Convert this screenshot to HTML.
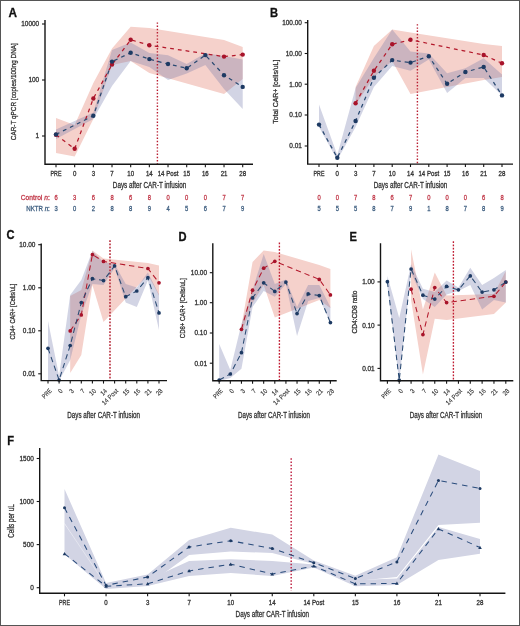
<!DOCTYPE html>
<html><head><meta charset="utf-8"><title>CAR-T figure</title>
<style>
html,body{margin:0;padding:0;background:#fff;}
body{width:520px;height:626px;overflow:hidden;}
svg{display:block;font-family:"Liberation Sans", sans-serif;will-change:transform;}
text{stroke-width:0.3px;}
</style></head><body>
<svg width="520" height="626" viewBox="0 0 520 626">
<rect x="0" y="0" width="520" height="626" fill="#fff"/>
<polygon points="56,118 74.67,125 93.34,83 112.01,48.5 130.68,26.7 149.35,28 224.03,40 242.7,47 242.7,79 224.03,94 149.35,73 130.68,61 112.01,65 93.34,119 74.67,156.5 56,153" fill="#f5d1cb"/>
<polygon points="56,129.5 93.34,112.5 112.01,50 130.68,42.5 149.35,53 168.02,55.2 186.69,64 205.36,53.2 224.03,56 242.7,59.6 242.7,109 224.03,89 205.36,65 186.69,73.4 168.02,80 149.35,67 130.68,61 112.01,86 93.34,119 56,139" fill="rgb(105,112,165)" fill-opacity="0.3"/>
<line x1="157.4" y1="22.4" x2="157.4" y2="164" stroke="#b81c30" stroke-width="1.4" stroke-dasharray="1.4 1.8"/>
<polyline points="56,134.8 74.67,148.8 93.34,98.5 112.01,64.6 130.68,39.8 149.35,45.2 224.03,56.6 242.7,54.6" fill="none" stroke="#b3182b" stroke-width="1.25" stroke-dasharray="3.8 4" stroke-linejoin="round"/>
<polyline points="56,134.4 93.34,115.8 112.01,61.6 130.68,52.7 149.35,59.1 168.02,64 186.69,68.3 205.36,55.1 224.03,75.2 242.7,86.9" fill="none" stroke="#2a4a72" stroke-width="1.25" stroke-dasharray="3.8 4" stroke-linejoin="round"/>
<circle cx="56" cy="134.8" r="2.2" fill="#a8132a"/>
<circle cx="74.67" cy="148.8" r="2.2" fill="#a8132a"/>
<circle cx="93.34" cy="98.5" r="2.2" fill="#a8132a"/>
<circle cx="112.01" cy="64.6" r="2.2" fill="#a8132a"/>
<circle cx="130.68" cy="39.8" r="2.2" fill="#a8132a"/>
<circle cx="149.35" cy="45.2" r="2.2" fill="#a8132a"/>
<circle cx="224.03" cy="56.6" r="2.2" fill="#a8132a"/>
<circle cx="242.7" cy="54.6" r="2.2" fill="#a8132a"/>
<circle cx="56" cy="134.4" r="2.2" fill="#1d3a63"/>
<circle cx="93.34" cy="115.8" r="2.2" fill="#1d3a63"/>
<circle cx="112.01" cy="61.6" r="2.2" fill="#1d3a63"/>
<circle cx="130.68" cy="52.7" r="2.2" fill="#1d3a63"/>
<circle cx="149.35" cy="59.1" r="2.2" fill="#1d3a63"/>
<circle cx="168.02" cy="64" r="2.2" fill="#1d3a63"/>
<circle cx="186.69" cy="68.3" r="2.2" fill="#1d3a63"/>
<circle cx="205.36" cy="55.1" r="2.2" fill="#1d3a63"/>
<circle cx="224.03" cy="75.2" r="2.2" fill="#1d3a63"/>
<circle cx="242.7" cy="86.9" r="2.2" fill="#1d3a63"/>
<path d="M45 20 V164.2 H253" fill="none" stroke="#151515" stroke-width="1.4"/>
<line x1="42" y1="24" x2="45" y2="24" stroke="#151515" stroke-width="1.1"/>
<text transform="translate(39.2,26.48) scale(0.95,1)" font-size="6.8" text-anchor="end" fill="#333333" stroke="#333333" font-weight="normal">10000</text>
<line x1="42" y1="80" x2="45" y2="80" stroke="#151515" stroke-width="1.1"/>
<text transform="translate(39.2,82.48) scale(0.95,1)" font-size="6.8" text-anchor="end" fill="#333333" stroke="#333333" font-weight="normal">100</text>
<line x1="42" y1="136" x2="45" y2="136" stroke="#151515" stroke-width="1.1"/>
<text transform="translate(39.2,138.48) scale(0.95,1)" font-size="6.8" text-anchor="end" fill="#333333" stroke="#333333" font-weight="normal">1</text>
<line x1="56" y1="164.2" x2="56" y2="167.2" stroke="#151515" stroke-width="1.1"/>
<line x1="74.67" y1="164.2" x2="74.67" y2="167.2" stroke="#151515" stroke-width="1.1"/>
<line x1="93.34" y1="164.2" x2="93.34" y2="167.2" stroke="#151515" stroke-width="1.1"/>
<line x1="112.01" y1="164.2" x2="112.01" y2="167.2" stroke="#151515" stroke-width="1.1"/>
<line x1="130.68" y1="164.2" x2="130.68" y2="167.2" stroke="#151515" stroke-width="1.1"/>
<line x1="149.35" y1="164.2" x2="149.35" y2="167.2" stroke="#151515" stroke-width="1.1"/>
<line x1="168.02" y1="164.2" x2="168.02" y2="167.2" stroke="#151515" stroke-width="1.1"/>
<line x1="186.69" y1="164.2" x2="186.69" y2="167.2" stroke="#151515" stroke-width="1.1"/>
<line x1="205.36" y1="164.2" x2="205.36" y2="167.2" stroke="#151515" stroke-width="1.1"/>
<line x1="224.03" y1="164.2" x2="224.03" y2="167.2" stroke="#151515" stroke-width="1.1"/>
<line x1="242.7" y1="164.2" x2="242.7" y2="167.2" stroke="#151515" stroke-width="1.1"/>
<text transform="translate(56,175.7) scale(0.78,1)" font-size="6.8" text-anchor="middle" fill="#333333" stroke="#333333" font-weight="normal">PRE</text>
<text transform="translate(74.67,175.7) scale(0.9,1)" font-size="6.8" text-anchor="middle" fill="#333333" stroke="#333333" font-weight="normal">0</text>
<text transform="translate(93.34,175.7) scale(0.9,1)" font-size="6.8" text-anchor="middle" fill="#333333" stroke="#333333" font-weight="normal">3</text>
<text transform="translate(112.01,175.7) scale(0.9,1)" font-size="6.8" text-anchor="middle" fill="#333333" stroke="#333333" font-weight="normal">7</text>
<text transform="translate(130.68,175.7) scale(0.9,1)" font-size="6.8" text-anchor="middle" fill="#333333" stroke="#333333" font-weight="normal">10</text>
<text transform="translate(149.35,175.7) scale(0.9,1)" font-size="6.8" text-anchor="middle" fill="#333333" stroke="#333333" font-weight="normal">14</text>
<text transform="translate(168.02,175.7) scale(0.9,1)" font-size="6.8" text-anchor="middle" fill="#333333" stroke="#333333" font-weight="normal">14 Post</text>
<text transform="translate(186.69,175.7) scale(0.9,1)" font-size="6.8" text-anchor="middle" fill="#333333" stroke="#333333" font-weight="normal">15</text>
<text transform="translate(205.36,175.7) scale(0.9,1)" font-size="6.8" text-anchor="middle" fill="#333333" stroke="#333333" font-weight="normal">16</text>
<text transform="translate(224.03,175.7) scale(0.9,1)" font-size="6.8" text-anchor="middle" fill="#333333" stroke="#333333" font-weight="normal">21</text>
<text transform="translate(242.7,175.7) scale(0.9,1)" font-size="6.8" text-anchor="middle" fill="#333333" stroke="#333333" font-weight="normal">28</text>
<text x="149.6" y="188.1" font-size="8.2" text-anchor="middle" fill="#333333" stroke="#333333" font-weight="normal" textLength="73.6" lengthAdjust="spacingAndGlyphs">Days after CAR-T infusion</text>
<text transform="translate(15.62,91.7) rotate(-90)" x="0" y="0" font-size="8" text-anchor="middle" fill="#333333" stroke="#333333" textLength="97" lengthAdjust="spacingAndGlyphs">CAR-T qPCR [copies/100ng DNA]</text>
<text transform="translate(8.4,16.5) scale(0.95,1)" font-size="12.4" text-anchor="start" fill="#111" stroke="#111" font-weight="bold">A</text>
<text x="49.8" y="199.8" font-size="7.0" text-anchor="end" fill="#c23b4b" stroke="#c23b4b" font-weight="normal" textLength="29" lengthAdjust="spacingAndGlyphs">Control <tspan font-style="italic">n</tspan>:</text>
<text x="49.8" y="210.8" font-size="7.0" text-anchor="end" fill="#3f5f80" stroke="#3f5f80" font-weight="normal" textLength="23.6" lengthAdjust="spacingAndGlyphs">NKTR <tspan font-style="italic">n</tspan>:</text>
<text transform="translate(56,199.8) scale(0.82,1)" font-size="7.1" text-anchor="middle" fill="#c23b4b" stroke="#c23b4b" font-weight="normal">6</text>
<text transform="translate(56,210.8) scale(0.82,1)" font-size="7.1" text-anchor="middle" fill="#3f5f80" stroke="#3f5f80" font-weight="normal">3</text>
<text transform="translate(74.67,199.8) scale(0.82,1)" font-size="7.1" text-anchor="middle" fill="#c23b4b" stroke="#c23b4b" font-weight="normal">3</text>
<text transform="translate(74.67,210.8) scale(0.82,1)" font-size="7.1" text-anchor="middle" fill="#3f5f80" stroke="#3f5f80" font-weight="normal">0</text>
<text transform="translate(93.34,199.8) scale(0.82,1)" font-size="7.1" text-anchor="middle" fill="#c23b4b" stroke="#c23b4b" font-weight="normal">6</text>
<text transform="translate(93.34,210.8) scale(0.82,1)" font-size="7.1" text-anchor="middle" fill="#3f5f80" stroke="#3f5f80" font-weight="normal">2</text>
<text transform="translate(112.01,199.8) scale(0.82,1)" font-size="7.1" text-anchor="middle" fill="#c23b4b" stroke="#c23b4b" font-weight="normal">8</text>
<text transform="translate(112.01,210.8) scale(0.82,1)" font-size="7.1" text-anchor="middle" fill="#3f5f80" stroke="#3f5f80" font-weight="normal">8</text>
<text transform="translate(130.68,199.8) scale(0.82,1)" font-size="7.1" text-anchor="middle" fill="#c23b4b" stroke="#c23b4b" font-weight="normal">6</text>
<text transform="translate(130.68,210.8) scale(0.82,1)" font-size="7.1" text-anchor="middle" fill="#3f5f80" stroke="#3f5f80" font-weight="normal">8</text>
<text transform="translate(149.35,199.8) scale(0.82,1)" font-size="7.1" text-anchor="middle" fill="#c23b4b" stroke="#c23b4b" font-weight="normal">8</text>
<text transform="translate(149.35,210.8) scale(0.82,1)" font-size="7.1" text-anchor="middle" fill="#3f5f80" stroke="#3f5f80" font-weight="normal">9</text>
<text transform="translate(168.02,199.8) scale(0.82,1)" font-size="7.1" text-anchor="middle" fill="#c23b4b" stroke="#c23b4b" font-weight="normal">0</text>
<text transform="translate(168.02,210.8) scale(0.82,1)" font-size="7.1" text-anchor="middle" fill="#3f5f80" stroke="#3f5f80" font-weight="normal">4</text>
<text transform="translate(186.69,199.8) scale(0.82,1)" font-size="7.1" text-anchor="middle" fill="#c23b4b" stroke="#c23b4b" font-weight="normal">0</text>
<text transform="translate(186.69,210.8) scale(0.82,1)" font-size="7.1" text-anchor="middle" fill="#3f5f80" stroke="#3f5f80" font-weight="normal">5</text>
<text transform="translate(205.36,199.8) scale(0.82,1)" font-size="7.1" text-anchor="middle" fill="#c23b4b" stroke="#c23b4b" font-weight="normal">0</text>
<text transform="translate(205.36,210.8) scale(0.82,1)" font-size="7.1" text-anchor="middle" fill="#3f5f80" stroke="#3f5f80" font-weight="normal">6</text>
<text transform="translate(224.03,199.8) scale(0.82,1)" font-size="7.1" text-anchor="middle" fill="#c23b4b" stroke="#c23b4b" font-weight="normal">7</text>
<text transform="translate(224.03,210.8) scale(0.82,1)" font-size="7.1" text-anchor="middle" fill="#3f5f80" stroke="#3f5f80" font-weight="normal">7</text>
<text transform="translate(242.7,199.8) scale(0.82,1)" font-size="7.1" text-anchor="middle" fill="#c23b4b" stroke="#c23b4b" font-weight="normal">7</text>
<text transform="translate(242.7,210.8) scale(0.82,1)" font-size="7.1" text-anchor="middle" fill="#3f5f80" stroke="#3f5f80" font-weight="normal">9</text>
<polygon points="355.6,87 373.9,46 392.2,29.6 410.5,32.4 483.7,44 502,46 502,77 483.7,80 410.5,94 392.2,61 373.9,77 355.6,105" fill="#f5d1cb"/>
<polygon points="319,104.4 337.3,155 355.6,88 373.9,58 392.2,29.6 410.5,51.6 428.8,53.4 447.1,73.2 465.4,68.2 483.7,58.3 502,74.4 502,95.4 483.7,78 465.4,78 447.1,93 428.8,59.6 410.5,70.7 392.2,66 373.9,87 355.6,127 337.3,160 319,127" fill="rgb(105,112,165)" fill-opacity="0.3"/>
<line x1="417.4" y1="24.2" x2="417.4" y2="164" stroke="#b81c30" stroke-width="1.4" stroke-dasharray="1.4 1.8"/>
<polyline points="355.6,103.2 373.9,70.8 392.2,44.3 410.5,39.8 483.7,55 502,63.3" fill="none" stroke="#b3182b" stroke-width="1.25" stroke-dasharray="3.8 4" stroke-linejoin="round"/>
<polyline points="319,124.6 337.3,157.7 355.6,121 373.9,77.7 392.2,60.1 410.5,62.6 428.8,56.3 447.1,83.8 465.4,72 483.7,67 502,95.4" fill="none" stroke="#2a4a72" stroke-width="1.25" stroke-dasharray="3.8 4" stroke-linejoin="round"/>
<circle cx="355.6" cy="103.2" r="2.2" fill="#a8132a"/>
<circle cx="373.9" cy="70.8" r="2.2" fill="#a8132a"/>
<circle cx="392.2" cy="44.3" r="2.2" fill="#a8132a"/>
<circle cx="410.5" cy="39.8" r="2.2" fill="#a8132a"/>
<circle cx="483.7" cy="55" r="2.2" fill="#a8132a"/>
<circle cx="502" cy="63.3" r="2.2" fill="#a8132a"/>
<circle cx="319" cy="124.6" r="2.2" fill="#1d3a63"/>
<circle cx="337.3" cy="157.7" r="2.2" fill="#1d3a63"/>
<circle cx="355.6" cy="121" r="2.2" fill="#1d3a63"/>
<circle cx="373.9" cy="77.7" r="2.2" fill="#1d3a63"/>
<circle cx="392.2" cy="60.1" r="2.2" fill="#1d3a63"/>
<circle cx="410.5" cy="62.6" r="2.2" fill="#1d3a63"/>
<circle cx="428.8" cy="56.3" r="2.2" fill="#1d3a63"/>
<circle cx="447.1" cy="83.8" r="2.2" fill="#1d3a63"/>
<circle cx="465.4" cy="72" r="2.2" fill="#1d3a63"/>
<circle cx="483.7" cy="67" r="2.2" fill="#1d3a63"/>
<circle cx="502" cy="95.4" r="2.2" fill="#1d3a63"/>
<path d="M307.7 20 V164.1 H513" fill="none" stroke="#151515" stroke-width="1.4"/>
<line x1="304.7" y1="22.7" x2="307.7" y2="22.7" stroke="#151515" stroke-width="1.1"/>
<text transform="translate(301.9,25.18) scale(0.95,1)" font-size="6.8" text-anchor="end" fill="#333333" stroke="#333333" font-weight="normal">100.00</text>
<line x1="304.7" y1="53.5" x2="307.7" y2="53.5" stroke="#151515" stroke-width="1.1"/>
<text transform="translate(301.9,55.98) scale(0.95,1)" font-size="6.8" text-anchor="end" fill="#333333" stroke="#333333" font-weight="normal">10.00</text>
<line x1="304.7" y1="84.2" x2="307.7" y2="84.2" stroke="#151515" stroke-width="1.1"/>
<text transform="translate(301.9,86.68) scale(0.95,1)" font-size="6.8" text-anchor="end" fill="#333333" stroke="#333333" font-weight="normal">1.00</text>
<line x1="304.7" y1="115" x2="307.7" y2="115" stroke="#151515" stroke-width="1.1"/>
<text transform="translate(301.9,117.48) scale(0.95,1)" font-size="6.8" text-anchor="end" fill="#333333" stroke="#333333" font-weight="normal">0.10</text>
<line x1="304.7" y1="146" x2="307.7" y2="146" stroke="#151515" stroke-width="1.1"/>
<text transform="translate(301.9,148.48) scale(0.95,1)" font-size="6.8" text-anchor="end" fill="#333333" stroke="#333333" font-weight="normal">0.01</text>
<line x1="319" y1="164" x2="319" y2="167" stroke="#151515" stroke-width="1.1"/>
<line x1="337.3" y1="164" x2="337.3" y2="167" stroke="#151515" stroke-width="1.1"/>
<line x1="355.6" y1="164" x2="355.6" y2="167" stroke="#151515" stroke-width="1.1"/>
<line x1="373.9" y1="164" x2="373.9" y2="167" stroke="#151515" stroke-width="1.1"/>
<line x1="392.2" y1="164" x2="392.2" y2="167" stroke="#151515" stroke-width="1.1"/>
<line x1="410.5" y1="164" x2="410.5" y2="167" stroke="#151515" stroke-width="1.1"/>
<line x1="428.8" y1="164" x2="428.8" y2="167" stroke="#151515" stroke-width="1.1"/>
<line x1="447.1" y1="164" x2="447.1" y2="167" stroke="#151515" stroke-width="1.1"/>
<line x1="465.4" y1="164" x2="465.4" y2="167" stroke="#151515" stroke-width="1.1"/>
<line x1="483.7" y1="164" x2="483.7" y2="167" stroke="#151515" stroke-width="1.1"/>
<line x1="502" y1="164" x2="502" y2="167" stroke="#151515" stroke-width="1.1"/>
<text transform="translate(319,175.9) scale(0.78,1)" font-size="6.8" text-anchor="middle" fill="#333333" stroke="#333333" font-weight="normal">PRE</text>
<text transform="translate(337.3,175.9) scale(0.9,1)" font-size="6.8" text-anchor="middle" fill="#333333" stroke="#333333" font-weight="normal">0</text>
<text transform="translate(355.6,175.9) scale(0.9,1)" font-size="6.8" text-anchor="middle" fill="#333333" stroke="#333333" font-weight="normal">3</text>
<text transform="translate(373.9,175.9) scale(0.9,1)" font-size="6.8" text-anchor="middle" fill="#333333" stroke="#333333" font-weight="normal">7</text>
<text transform="translate(392.2,175.9) scale(0.9,1)" font-size="6.8" text-anchor="middle" fill="#333333" stroke="#333333" font-weight="normal">10</text>
<text transform="translate(410.5,175.9) scale(0.9,1)" font-size="6.8" text-anchor="middle" fill="#333333" stroke="#333333" font-weight="normal">14</text>
<text transform="translate(428.8,175.9) scale(0.9,1)" font-size="6.8" text-anchor="middle" fill="#333333" stroke="#333333" font-weight="normal">14 Post</text>
<text transform="translate(447.1,175.9) scale(0.9,1)" font-size="6.8" text-anchor="middle" fill="#333333" stroke="#333333" font-weight="normal">15</text>
<text transform="translate(465.4,175.9) scale(0.9,1)" font-size="6.8" text-anchor="middle" fill="#333333" stroke="#333333" font-weight="normal">16</text>
<text transform="translate(483.7,175.9) scale(0.9,1)" font-size="6.8" text-anchor="middle" fill="#333333" stroke="#333333" font-weight="normal">21</text>
<text transform="translate(502,175.9) scale(0.9,1)" font-size="6.8" text-anchor="middle" fill="#333333" stroke="#333333" font-weight="normal">28</text>
<text x="410.5" y="188.1" font-size="8.2" text-anchor="middle" fill="#333333" stroke="#333333" font-weight="normal" textLength="73.6" lengthAdjust="spacingAndGlyphs">Days after CAR-T infusion</text>
<text transform="translate(277.52,91.7) rotate(-90)" x="0" y="0" font-size="8" text-anchor="middle" fill="#333333" stroke="#333333" textLength="64" lengthAdjust="spacingAndGlyphs">Total CAR+ [cells/uL]</text>
<text transform="translate(270,16.5) scale(0.9,1)" font-size="12.4" text-anchor="start" fill="#111" stroke="#111" font-weight="bold">B</text>
<text transform="translate(319,199.8) scale(0.82,1)" font-size="7.1" text-anchor="middle" fill="#c23b4b" stroke="#c23b4b" font-weight="normal">0</text>
<text transform="translate(319,210.8) scale(0.82,1)" font-size="7.1" text-anchor="middle" fill="#3f5f80" stroke="#3f5f80" font-weight="normal">5</text>
<text transform="translate(337.3,199.8) scale(0.82,1)" font-size="7.1" text-anchor="middle" fill="#c23b4b" stroke="#c23b4b" font-weight="normal">0</text>
<text transform="translate(337.3,210.8) scale(0.82,1)" font-size="7.1" text-anchor="middle" fill="#3f5f80" stroke="#3f5f80" font-weight="normal">5</text>
<text transform="translate(355.6,199.8) scale(0.82,1)" font-size="7.1" text-anchor="middle" fill="#c23b4b" stroke="#c23b4b" font-weight="normal">7</text>
<text transform="translate(355.6,210.8) scale(0.82,1)" font-size="7.1" text-anchor="middle" fill="#3f5f80" stroke="#3f5f80" font-weight="normal">5</text>
<text transform="translate(373.9,199.8) scale(0.82,1)" font-size="7.1" text-anchor="middle" fill="#c23b4b" stroke="#c23b4b" font-weight="normal">8</text>
<text transform="translate(373.9,210.8) scale(0.82,1)" font-size="7.1" text-anchor="middle" fill="#3f5f80" stroke="#3f5f80" font-weight="normal">8</text>
<text transform="translate(392.2,199.8) scale(0.82,1)" font-size="7.1" text-anchor="middle" fill="#c23b4b" stroke="#c23b4b" font-weight="normal">6</text>
<text transform="translate(392.2,210.8) scale(0.82,1)" font-size="7.1" text-anchor="middle" fill="#3f5f80" stroke="#3f5f80" font-weight="normal">7</text>
<text transform="translate(410.5,199.8) scale(0.82,1)" font-size="7.1" text-anchor="middle" fill="#c23b4b" stroke="#c23b4b" font-weight="normal">7</text>
<text transform="translate(410.5,210.8) scale(0.82,1)" font-size="7.1" text-anchor="middle" fill="#3f5f80" stroke="#3f5f80" font-weight="normal">9</text>
<text transform="translate(428.8,199.8) scale(0.82,1)" font-size="7.1" text-anchor="middle" fill="#c23b4b" stroke="#c23b4b" font-weight="normal">0</text>
<text transform="translate(428.8,210.8) scale(0.82,1)" font-size="7.1" text-anchor="middle" fill="#3f5f80" stroke="#3f5f80" font-weight="normal">1</text>
<text transform="translate(447.1,199.8) scale(0.82,1)" font-size="7.1" text-anchor="middle" fill="#c23b4b" stroke="#c23b4b" font-weight="normal">0</text>
<text transform="translate(447.1,210.8) scale(0.82,1)" font-size="7.1" text-anchor="middle" fill="#3f5f80" stroke="#3f5f80" font-weight="normal">8</text>
<text transform="translate(465.4,199.8) scale(0.82,1)" font-size="7.1" text-anchor="middle" fill="#c23b4b" stroke="#c23b4b" font-weight="normal">0</text>
<text transform="translate(465.4,210.8) scale(0.82,1)" font-size="7.1" text-anchor="middle" fill="#3f5f80" stroke="#3f5f80" font-weight="normal">7</text>
<text transform="translate(483.7,199.8) scale(0.82,1)" font-size="7.1" text-anchor="middle" fill="#c23b4b" stroke="#c23b4b" font-weight="normal">6</text>
<text transform="translate(483.7,210.8) scale(0.82,1)" font-size="7.1" text-anchor="middle" fill="#3f5f80" stroke="#3f5f80" font-weight="normal">8</text>
<text transform="translate(502,199.8) scale(0.82,1)" font-size="7.1" text-anchor="middle" fill="#c23b4b" stroke="#c23b4b" font-weight="normal">8</text>
<text transform="translate(502,210.8) scale(0.82,1)" font-size="7.1" text-anchor="middle" fill="#3f5f80" stroke="#3f5f80" font-weight="normal">9</text>
<polygon points="70.2,296 81.3,290 92.4,250.6 103.5,258.4 147.9,263 159,265.5 159,295.5 147.9,275 103.5,322 92.4,285 81.3,355 70.2,373" fill="#f5d1cb"/>
<polygon points="48,321 59.1,376 70.2,295 81.3,280 92.4,251 103.5,262 114.6,264 125.7,284 136.8,287.5 147.9,272.4 159,294.4 159,330 147.9,280.5 136.8,307 125.7,302.5 114.6,268 103.5,285 92.4,284 81.3,315 70.2,360 59.1,381 48,381" fill="rgb(105,112,165)" fill-opacity="0.3"/>
<line x1="110" y1="240.3" x2="110" y2="380.5" stroke="#b8303f" stroke-width="1.6" stroke-dasharray="1.6 1.65"/>
<polyline points="70.2,330.9 81.3,314.9 92.4,254.6 103.5,261.4 147.9,268.5 159,282.8" fill="none" stroke="#b3182b" stroke-width="1.05" stroke-dasharray="5.4 3.8" stroke-linejoin="round"/>
<polyline points="48,348.3 59.1,380 70.2,345.5 81.3,302.6 92.4,278.7 103.5,280.6 114.6,265.9 125.7,296.7 136.8,291 147.9,277.7 159,312.9" fill="none" stroke="#2a4a72" stroke-width="1.05" stroke-dasharray="5.4 3.8" stroke-linejoin="round"/>
<circle cx="70.2" cy="330.9" r="1.85" fill="#a8132a"/>
<circle cx="81.3" cy="314.9" r="1.85" fill="#a8132a"/>
<circle cx="92.4" cy="254.6" r="1.85" fill="#a8132a"/>
<circle cx="103.5" cy="261.4" r="1.85" fill="#a8132a"/>
<circle cx="147.9" cy="268.5" r="1.85" fill="#a8132a"/>
<circle cx="159" cy="282.8" r="1.85" fill="#a8132a"/>
<circle cx="48" cy="348.3" r="1.85" fill="#1d3a63"/>
<circle cx="59.1" cy="380" r="1.85" fill="#1d3a63"/>
<circle cx="70.2" cy="345.5" r="1.85" fill="#1d3a63"/>
<circle cx="81.3" cy="302.6" r="1.85" fill="#1d3a63"/>
<circle cx="92.4" cy="278.7" r="1.85" fill="#1d3a63"/>
<circle cx="103.5" cy="280.6" r="1.85" fill="#1d3a63"/>
<circle cx="114.6" cy="265.9" r="1.85" fill="#1d3a63"/>
<circle cx="125.7" cy="296.7" r="1.85" fill="#1d3a63"/>
<circle cx="136.8" cy="291" r="1.85" fill="#1d3a63"/>
<circle cx="147.9" cy="277.7" r="1.85" fill="#1d3a63"/>
<circle cx="159" cy="312.9" r="1.85" fill="#1d3a63"/>
<path d="M41.2 243.5 V380.6 H167" fill="none" stroke="#151515" stroke-width="1.4"/>
<line x1="38.2" y1="244.7" x2="41.2" y2="244.7" stroke="#151515" stroke-width="1.1"/>
<text transform="translate(35.4,247.18) scale(0.95,1)" font-size="6.8" text-anchor="end" fill="#333333" stroke="#333333" font-weight="normal">10.00</text>
<line x1="38.2" y1="287.8" x2="41.2" y2="287.8" stroke="#151515" stroke-width="1.1"/>
<text transform="translate(35.4,290.28) scale(0.95,1)" font-size="6.8" text-anchor="end" fill="#333333" stroke="#333333" font-weight="normal">1.00</text>
<line x1="38.2" y1="330.8" x2="41.2" y2="330.8" stroke="#151515" stroke-width="1.1"/>
<text transform="translate(35.4,333.28) scale(0.95,1)" font-size="6.8" text-anchor="end" fill="#333333" stroke="#333333" font-weight="normal">0.10</text>
<line x1="38.2" y1="373.8" x2="41.2" y2="373.8" stroke="#151515" stroke-width="1.1"/>
<text transform="translate(35.4,376.28) scale(0.95,1)" font-size="6.8" text-anchor="end" fill="#333333" stroke="#333333" font-weight="normal">0.01</text>
<line x1="48" y1="380.6" x2="48" y2="383.6" stroke="#151515" stroke-width="1.1"/>
<line x1="59.1" y1="380.6" x2="59.1" y2="383.6" stroke="#151515" stroke-width="1.1"/>
<line x1="70.2" y1="380.6" x2="70.2" y2="383.6" stroke="#151515" stroke-width="1.1"/>
<line x1="81.3" y1="380.6" x2="81.3" y2="383.6" stroke="#151515" stroke-width="1.1"/>
<line x1="92.4" y1="380.6" x2="92.4" y2="383.6" stroke="#151515" stroke-width="1.1"/>
<line x1="103.5" y1="380.6" x2="103.5" y2="383.6" stroke="#151515" stroke-width="1.1"/>
<line x1="114.6" y1="380.6" x2="114.6" y2="383.6" stroke="#151515" stroke-width="1.1"/>
<line x1="125.7" y1="380.6" x2="125.7" y2="383.6" stroke="#151515" stroke-width="1.1"/>
<line x1="136.8" y1="380.6" x2="136.8" y2="383.6" stroke="#151515" stroke-width="1.1"/>
<line x1="147.9" y1="380.6" x2="147.9" y2="383.6" stroke="#151515" stroke-width="1.1"/>
<line x1="159" y1="380.6" x2="159" y2="383.6" stroke="#151515" stroke-width="1.1"/>
<text transform="translate(52.1,391.4) rotate(-45) scale(0.78,1)" font-size="6.6" text-anchor="end" fill="#333333" stroke="#333333" style="stroke-width:0.12px">PRE</text>
<text transform="translate(63.2,391.4) rotate(-45) scale(0.9,1)" font-size="6.6" text-anchor="end" fill="#333333" stroke="#333333" style="stroke-width:0.12px">0</text>
<text transform="translate(74.3,391.4) rotate(-45) scale(0.9,1)" font-size="6.6" text-anchor="end" fill="#333333" stroke="#333333" style="stroke-width:0.12px">3</text>
<text transform="translate(85.4,391.4) rotate(-45) scale(0.9,1)" font-size="6.6" text-anchor="end" fill="#333333" stroke="#333333" style="stroke-width:0.12px">7</text>
<text transform="translate(96.5,391.4) rotate(-45) scale(0.9,1)" font-size="6.6" text-anchor="end" fill="#333333" stroke="#333333" style="stroke-width:0.12px">10</text>
<text transform="translate(107.6,391.4) rotate(-45) scale(0.9,1)" font-size="6.6" text-anchor="end" fill="#333333" stroke="#333333" style="stroke-width:0.12px">14</text>
<text transform="translate(118.7,391.4) rotate(-45) scale(0.9,1)" font-size="6.6" text-anchor="end" fill="#333333" stroke="#333333" style="stroke-width:0.12px">14 Post</text>
<text transform="translate(129.8,391.4) rotate(-45) scale(0.9,1)" font-size="6.6" text-anchor="end" fill="#333333" stroke="#333333" style="stroke-width:0.12px">15</text>
<text transform="translate(140.9,391.4) rotate(-45) scale(0.9,1)" font-size="6.6" text-anchor="end" fill="#333333" stroke="#333333" style="stroke-width:0.12px">16</text>
<text transform="translate(152,391.4) rotate(-45) scale(0.9,1)" font-size="6.6" text-anchor="end" fill="#333333" stroke="#333333" style="stroke-width:0.12px">21</text>
<text transform="translate(163.1,391.4) rotate(-45) scale(0.9,1)" font-size="6.6" text-anchor="end" fill="#333333" stroke="#333333" style="stroke-width:0.12px">28</text>
<text x="103.7" y="418.3" font-size="8.2" text-anchor="middle" fill="#333333" stroke="#333333" font-weight="normal" textLength="72.7" lengthAdjust="spacingAndGlyphs">Days after CAR-T infusion</text>
<text transform="translate(14.72,311.6) rotate(-90)" x="0" y="0" font-size="8" text-anchor="middle" fill="#333333" stroke="#333333" textLength="56" lengthAdjust="spacingAndGlyphs">CD4+ CAR+ [Cells/uL]</text>
<text transform="translate(6.5,239.3) scale(0.9,1)" font-size="12.4" text-anchor="start" fill="#111" stroke="#111" font-weight="bold">C</text>
<polygon points="241.44,326 252.56,262 263.68,250.4 274.8,252 319.28,265 330.4,269 330.4,308 319.28,300 274.8,317.5 263.68,285 252.56,303 241.44,334" fill="#f5d1cb"/>
<polygon points="219.2,344 230.32,370 241.44,324 252.56,290 263.68,254 274.8,284 285.92,279.4 297.04,307 308.16,285 319.28,285 330.4,307 330.4,323 319.28,298 308.16,301 297.04,336 285.92,284 274.8,296.7 263.68,291 252.56,307 241.44,368.7 230.32,378 219.2,381" fill="rgb(105,112,165)" fill-opacity="0.3"/>
<line x1="279.4" y1="242.6" x2="279.4" y2="380.5" stroke="#c01c32" stroke-width="1.35" stroke-dasharray="1.6 1.65"/>
<polyline points="241.44,329.3 252.56,290.2 263.68,268.2 274.8,261.3 319.28,279.4 330.4,294.9" fill="none" stroke="#b3182b" stroke-width="1.05" stroke-dasharray="5.4 3.8" stroke-linejoin="round"/>
<polyline points="219.2,380 230.32,374 241.44,352.7 252.56,297.9 263.68,282.8 274.8,291.4 285.92,282.1 297.04,313.6 308.16,293.9 319.28,295.6 330.4,322.6" fill="none" stroke="#2a4a72" stroke-width="1.05" stroke-dasharray="5.4 3.8" stroke-linejoin="round"/>
<circle cx="241.44" cy="329.3" r="1.85" fill="#a8132a"/>
<circle cx="252.56" cy="290.2" r="1.85" fill="#a8132a"/>
<circle cx="263.68" cy="268.2" r="1.85" fill="#a8132a"/>
<circle cx="274.8" cy="261.3" r="1.85" fill="#a8132a"/>
<circle cx="319.28" cy="279.4" r="1.85" fill="#a8132a"/>
<circle cx="330.4" cy="294.9" r="1.85" fill="#a8132a"/>
<circle cx="219.2" cy="380" r="1.85" fill="#1d3a63"/>
<circle cx="230.32" cy="374" r="1.85" fill="#1d3a63"/>
<circle cx="241.44" cy="352.7" r="1.85" fill="#1d3a63"/>
<circle cx="252.56" cy="297.9" r="1.85" fill="#1d3a63"/>
<circle cx="263.68" cy="282.8" r="1.85" fill="#1d3a63"/>
<circle cx="274.8" cy="291.4" r="1.85" fill="#1d3a63"/>
<circle cx="285.92" cy="282.1" r="1.85" fill="#1d3a63"/>
<circle cx="297.04" cy="313.6" r="1.85" fill="#1d3a63"/>
<circle cx="308.16" cy="293.9" r="1.85" fill="#1d3a63"/>
<circle cx="319.28" cy="295.6" r="1.85" fill="#1d3a63"/>
<circle cx="330.4" cy="322.6" r="1.85" fill="#1d3a63"/>
<path d="M212.8 243.2 V380.7 H336.7" fill="none" stroke="#151515" stroke-width="1.4"/>
<line x1="209.8" y1="272.7" x2="212.8" y2="272.7" stroke="#151515" stroke-width="1.1"/>
<text transform="translate(207,275.18) scale(0.95,1)" font-size="6.8" text-anchor="end" fill="#333333" stroke="#333333" font-weight="normal">10.00</text>
<line x1="209.8" y1="302.7" x2="212.8" y2="302.7" stroke="#151515" stroke-width="1.1"/>
<text transform="translate(207,305.18) scale(0.95,1)" font-size="6.8" text-anchor="end" fill="#333333" stroke="#333333" font-weight="normal">1.00</text>
<line x1="209.8" y1="333" x2="212.8" y2="333" stroke="#151515" stroke-width="1.1"/>
<text transform="translate(207,335.48) scale(0.95,1)" font-size="6.8" text-anchor="end" fill="#333333" stroke="#333333" font-weight="normal">0.10</text>
<line x1="209.8" y1="363.2" x2="212.8" y2="363.2" stroke="#151515" stroke-width="1.1"/>
<text transform="translate(207,365.68) scale(0.95,1)" font-size="6.8" text-anchor="end" fill="#333333" stroke="#333333" font-weight="normal">0.01</text>
<line x1="219.2" y1="380.7" x2="219.2" y2="383.7" stroke="#151515" stroke-width="1.1"/>
<line x1="230.32" y1="380.7" x2="230.32" y2="383.7" stroke="#151515" stroke-width="1.1"/>
<line x1="241.44" y1="380.7" x2="241.44" y2="383.7" stroke="#151515" stroke-width="1.1"/>
<line x1="252.56" y1="380.7" x2="252.56" y2="383.7" stroke="#151515" stroke-width="1.1"/>
<line x1="263.68" y1="380.7" x2="263.68" y2="383.7" stroke="#151515" stroke-width="1.1"/>
<line x1="274.8" y1="380.7" x2="274.8" y2="383.7" stroke="#151515" stroke-width="1.1"/>
<line x1="285.92" y1="380.7" x2="285.92" y2="383.7" stroke="#151515" stroke-width="1.1"/>
<line x1="297.04" y1="380.7" x2="297.04" y2="383.7" stroke="#151515" stroke-width="1.1"/>
<line x1="308.16" y1="380.7" x2="308.16" y2="383.7" stroke="#151515" stroke-width="1.1"/>
<line x1="319.28" y1="380.7" x2="319.28" y2="383.7" stroke="#151515" stroke-width="1.1"/>
<line x1="330.4" y1="380.7" x2="330.4" y2="383.7" stroke="#151515" stroke-width="1.1"/>
<text transform="translate(223.3,391.4) rotate(-45) scale(0.78,1)" font-size="6.6" text-anchor="end" fill="#333333" stroke="#333333" style="stroke-width:0.12px">PRE</text>
<text transform="translate(234.42,391.4) rotate(-45) scale(0.9,1)" font-size="6.6" text-anchor="end" fill="#333333" stroke="#333333" style="stroke-width:0.12px">0</text>
<text transform="translate(245.54,391.4) rotate(-45) scale(0.9,1)" font-size="6.6" text-anchor="end" fill="#333333" stroke="#333333" style="stroke-width:0.12px">3</text>
<text transform="translate(256.66,391.4) rotate(-45) scale(0.9,1)" font-size="6.6" text-anchor="end" fill="#333333" stroke="#333333" style="stroke-width:0.12px">7</text>
<text transform="translate(267.78,391.4) rotate(-45) scale(0.9,1)" font-size="6.6" text-anchor="end" fill="#333333" stroke="#333333" style="stroke-width:0.12px">10</text>
<text transform="translate(278.9,391.4) rotate(-45) scale(0.9,1)" font-size="6.6" text-anchor="end" fill="#333333" stroke="#333333" style="stroke-width:0.12px">14</text>
<text transform="translate(290.02,391.4) rotate(-45) scale(0.9,1)" font-size="6.6" text-anchor="end" fill="#333333" stroke="#333333" style="stroke-width:0.12px">14 Post</text>
<text transform="translate(301.14,391.4) rotate(-45) scale(0.9,1)" font-size="6.6" text-anchor="end" fill="#333333" stroke="#333333" style="stroke-width:0.12px">15</text>
<text transform="translate(312.26,391.4) rotate(-45) scale(0.9,1)" font-size="6.6" text-anchor="end" fill="#333333" stroke="#333333" style="stroke-width:0.12px">16</text>
<text transform="translate(323.38,391.4) rotate(-45) scale(0.9,1)" font-size="6.6" text-anchor="end" fill="#333333" stroke="#333333" style="stroke-width:0.12px">21</text>
<text transform="translate(334.5,391.4) rotate(-45) scale(0.9,1)" font-size="6.6" text-anchor="end" fill="#333333" stroke="#333333" style="stroke-width:0.12px">28</text>
<text x="274" y="418.3" font-size="8.2" text-anchor="middle" fill="#333333" stroke="#333333" font-weight="normal" textLength="72" lengthAdjust="spacingAndGlyphs">Days after CAR-T infusion</text>
<text transform="translate(184.92,308.2) rotate(-90)" x="0" y="0" font-size="8" text-anchor="middle" fill="#333333" stroke="#333333" textLength="60" lengthAdjust="spacingAndGlyphs">CD8+ CAR+ [Cells/uL]</text>
<text transform="translate(178.5,240.8) scale(0.9,1)" font-size="12.4" text-anchor="start" fill="#111" stroke="#111" font-weight="bold">D</text>
<polygon points="411.08,249.3 422.92,309.5 434.76,272.5 446.6,295.6 493.96,294 505.8,271 505.8,302.5 493.96,314 446.6,320 434.76,318.8 422.92,374.4 411.08,300" fill="#f5d1cb"/>
<polygon points="387.4,276 399.24,318 411.08,264.3 422.92,288.7 434.76,292 446.6,280.5 458.44,287.5 470.28,267.8 482.12,285 493.96,278 505.8,270 505.8,302.5 493.96,300 482.12,309.4 470.28,285 458.44,291 446.6,294.4 434.76,307 422.92,299 411.08,272.5 399.24,381 387.4,286.4" fill="rgb(105,112,165)" fill-opacity="0.3"/>
<line x1="453.4" y1="241.3" x2="453.4" y2="380.5" stroke="#c01c32" stroke-width="1.35" stroke-dasharray="1.6 1.65"/>
<polyline points="411.08,289.2 422.92,334.6 434.76,287.5 446.6,302.6 493.96,296.3 505.8,282.1" fill="none" stroke="#b3182b" stroke-width="1.05" stroke-dasharray="5.4 3.8" stroke-linejoin="round"/>
<polyline points="387.4,281.7 399.24,380.2 411.08,269 422.92,295.2 434.76,299.1 446.6,286.4 458.44,289.8 470.28,275.9 482.12,292.1 493.96,289.8 505.8,282.1" fill="none" stroke="#2a4a72" stroke-width="1.05" stroke-dasharray="5.4 3.8" stroke-linejoin="round"/>
<circle cx="411.08" cy="289.2" r="1.85" fill="#a8132a"/>
<circle cx="422.92" cy="334.6" r="1.85" fill="#a8132a"/>
<circle cx="434.76" cy="287.5" r="1.85" fill="#a8132a"/>
<circle cx="446.6" cy="302.6" r="1.85" fill="#a8132a"/>
<circle cx="493.96" cy="296.3" r="1.85" fill="#a8132a"/>
<circle cx="505.8" cy="282.1" r="1.85" fill="#a8132a"/>
<circle cx="387.4" cy="281.7" r="1.85" fill="#1d3a63"/>
<circle cx="399.24" cy="380.2" r="1.85" fill="#1d3a63"/>
<circle cx="411.08" cy="269" r="1.85" fill="#1d3a63"/>
<circle cx="422.92" cy="295.2" r="1.85" fill="#1d3a63"/>
<circle cx="434.76" cy="299.1" r="1.85" fill="#1d3a63"/>
<circle cx="446.6" cy="286.4" r="1.85" fill="#1d3a63"/>
<circle cx="458.44" cy="289.8" r="1.85" fill="#1d3a63"/>
<circle cx="470.28" cy="275.9" r="1.85" fill="#1d3a63"/>
<circle cx="482.12" cy="292.1" r="1.85" fill="#1d3a63"/>
<circle cx="493.96" cy="289.8" r="1.85" fill="#1d3a63"/>
<circle cx="505.8" cy="282.1" r="1.85" fill="#1d3a63"/>
<path d="M380.5 243.2 V380.7 H513.3" fill="none" stroke="#151515" stroke-width="1.4"/>
<line x1="377.5" y1="281.9" x2="380.5" y2="281.9" stroke="#151515" stroke-width="1.1"/>
<text transform="translate(374.7,284.38) scale(0.95,1)" font-size="6.8" text-anchor="end" fill="#333333" stroke="#333333" font-weight="normal">1.00</text>
<line x1="377.5" y1="325.1" x2="380.5" y2="325.1" stroke="#151515" stroke-width="1.1"/>
<text transform="translate(374.7,327.58) scale(0.95,1)" font-size="6.8" text-anchor="end" fill="#333333" stroke="#333333" font-weight="normal">0.10</text>
<line x1="377.5" y1="368.4" x2="380.5" y2="368.4" stroke="#151515" stroke-width="1.1"/>
<text transform="translate(374.7,370.88) scale(0.95,1)" font-size="6.8" text-anchor="end" fill="#333333" stroke="#333333" font-weight="normal">0.01</text>
<line x1="387.4" y1="380.7" x2="387.4" y2="383.7" stroke="#151515" stroke-width="1.1"/>
<line x1="399.24" y1="380.7" x2="399.24" y2="383.7" stroke="#151515" stroke-width="1.1"/>
<line x1="411.08" y1="380.7" x2="411.08" y2="383.7" stroke="#151515" stroke-width="1.1"/>
<line x1="422.92" y1="380.7" x2="422.92" y2="383.7" stroke="#151515" stroke-width="1.1"/>
<line x1="434.76" y1="380.7" x2="434.76" y2="383.7" stroke="#151515" stroke-width="1.1"/>
<line x1="446.6" y1="380.7" x2="446.6" y2="383.7" stroke="#151515" stroke-width="1.1"/>
<line x1="458.44" y1="380.7" x2="458.44" y2="383.7" stroke="#151515" stroke-width="1.1"/>
<line x1="470.28" y1="380.7" x2="470.28" y2="383.7" stroke="#151515" stroke-width="1.1"/>
<line x1="482.12" y1="380.7" x2="482.12" y2="383.7" stroke="#151515" stroke-width="1.1"/>
<line x1="493.96" y1="380.7" x2="493.96" y2="383.7" stroke="#151515" stroke-width="1.1"/>
<line x1="505.8" y1="380.7" x2="505.8" y2="383.7" stroke="#151515" stroke-width="1.1"/>
<text transform="translate(391.5,391.4) rotate(-45) scale(0.78,1)" font-size="6.6" text-anchor="end" fill="#333333" stroke="#333333" style="stroke-width:0.12px">PRE</text>
<text transform="translate(403.34,391.4) rotate(-45) scale(0.9,1)" font-size="6.6" text-anchor="end" fill="#333333" stroke="#333333" style="stroke-width:0.12px">0</text>
<text transform="translate(415.18,391.4) rotate(-45) scale(0.9,1)" font-size="6.6" text-anchor="end" fill="#333333" stroke="#333333" style="stroke-width:0.12px">3</text>
<text transform="translate(427.02,391.4) rotate(-45) scale(0.9,1)" font-size="6.6" text-anchor="end" fill="#333333" stroke="#333333" style="stroke-width:0.12px">7</text>
<text transform="translate(438.86,391.4) rotate(-45) scale(0.9,1)" font-size="6.6" text-anchor="end" fill="#333333" stroke="#333333" style="stroke-width:0.12px">10</text>
<text transform="translate(450.7,391.4) rotate(-45) scale(0.9,1)" font-size="6.6" text-anchor="end" fill="#333333" stroke="#333333" style="stroke-width:0.12px">14</text>
<text transform="translate(462.54,391.4) rotate(-45) scale(0.9,1)" font-size="6.6" text-anchor="end" fill="#333333" stroke="#333333" style="stroke-width:0.12px">14 Post</text>
<text transform="translate(474.38,391.4) rotate(-45) scale(0.9,1)" font-size="6.6" text-anchor="end" fill="#333333" stroke="#333333" style="stroke-width:0.12px">15</text>
<text transform="translate(486.22,391.4) rotate(-45) scale(0.9,1)" font-size="6.6" text-anchor="end" fill="#333333" stroke="#333333" style="stroke-width:0.12px">16</text>
<text transform="translate(498.06,391.4) rotate(-45) scale(0.9,1)" font-size="6.6" text-anchor="end" fill="#333333" stroke="#333333" style="stroke-width:0.12px">21</text>
<text transform="translate(509.9,391.4) rotate(-45) scale(0.9,1)" font-size="6.6" text-anchor="end" fill="#333333" stroke="#333333" style="stroke-width:0.12px">28</text>
<text x="446" y="418.3" font-size="8.2" text-anchor="middle" fill="#333333" stroke="#333333" font-weight="normal" textLength="72.5" lengthAdjust="spacingAndGlyphs">Days after CAR-T infusion</text>
<text transform="translate(356.92,312) rotate(-90)" x="0" y="0" font-size="8" text-anchor="middle" fill="#333333" stroke="#333333" textLength="43" lengthAdjust="spacingAndGlyphs">CD4:CD8 ratio</text>
<text transform="translate(349.6,240.8) scale(0.9,1)" font-size="12.4" text-anchor="start" fill="#111" stroke="#111" font-weight="bold">E</text>
<polygon points="64.5,489 106.05,583 147.6,574.6 189.15,540 230.7,527.8 272.25,534.6 313.8,560.5 355.35,575.8 396.9,557.3 438.45,454.5 480,471 480,522.7 438.45,525 396.9,577 355.35,581 313.8,564 272.25,553 230.7,551.5 189.15,555 147.6,585 106.05,588 64.5,523.5" fill="#d2d4e4"/>
<polygon points="64.5,523.5 106.05,584 147.6,580 189.15,561 230.7,559.2 272.25,561 313.8,564.5 355.35,580 396.9,578.5 438.45,527 480,539 480,553.7 438.45,560 396.9,585 355.35,586.2 313.8,567.5 272.25,576 230.7,573 189.15,576 147.6,586 106.05,589 64.5,554.3" fill="#d2d4e4"/>
<line x1="64.5" y1="523.5" x2="106.2" y2="585.5" stroke="#fff" stroke-opacity="0.55" stroke-width="0.7"/>
<line x1="291.2" y1="458.2" x2="291.2" y2="590.5" stroke="#c02848" stroke-width="1.5" stroke-dasharray="1.5 1.8"/>
<polyline points="64.5,507.8 106.05,585.4 147.6,577 189.15,547 230.7,540.8 272.25,548.5 313.8,562.8 355.35,578.5 396.9,562 438.45,480.5 480,488.4" fill="none" stroke="#2a4c7c" stroke-width="1.05" stroke-dasharray="5.5 5" stroke-linejoin="round"/>
<polyline points="64.5,553.7 106.05,586.3 147.6,583.8 189.15,570.9 230.7,564.2 272.25,574 313.8,566 355.35,583.9 396.9,583.4 438.45,528.9 480,547.5" fill="none" stroke="#2a4c7c" stroke-width="1.05" stroke-dasharray="5.5 5" stroke-linejoin="round"/>
<circle cx="64.5" cy="507.8" r="1.5" fill="#1d3a63"/>
<circle cx="106.05" cy="585.4" r="1.5" fill="#1d3a63"/>
<circle cx="147.6" cy="577" r="1.5" fill="#1d3a63"/>
<circle cx="189.15" cy="547" r="1.5" fill="#1d3a63"/>
<circle cx="230.7" cy="540.8" r="1.5" fill="#1d3a63"/>
<circle cx="272.25" cy="548.5" r="1.5" fill="#1d3a63"/>
<circle cx="313.8" cy="562.8" r="1.5" fill="#1d3a63"/>
<circle cx="355.35" cy="578.5" r="1.5" fill="#1d3a63"/>
<circle cx="396.9" cy="562" r="1.5" fill="#1d3a63"/>
<circle cx="438.45" cy="480.5" r="1.5" fill="#1d3a63"/>
<circle cx="480" cy="488.4" r="1.5" fill="#1d3a63"/>
<polygon points="64.5,551.9 62.7,555.14 66.3,555.14" fill="#1d3a63"/>
<polygon points="106.05,584.5 104.25,587.74 107.85,587.74" fill="#1d3a63"/>
<polygon points="147.6,582 145.8,585.24 149.4,585.24" fill="#1d3a63"/>
<polygon points="189.15,569.1 187.35,572.34 190.95,572.34" fill="#1d3a63"/>
<polygon points="230.7,562.4 228.9,565.64 232.5,565.64" fill="#1d3a63"/>
<polygon points="272.25,572.2 270.45,575.44 274.05,575.44" fill="#1d3a63"/>
<polygon points="313.8,564.2 312,567.44 315.6,567.44" fill="#1d3a63"/>
<polygon points="355.35,582.1 353.55,585.34 357.15,585.34" fill="#1d3a63"/>
<polygon points="396.9,581.6 395.1,584.84 398.7,584.84" fill="#1d3a63"/>
<polygon points="438.45,527.1 436.65,530.34 440.25,530.34" fill="#1d3a63"/>
<polygon points="480,545.7 478.2,548.94 481.8,548.94" fill="#1d3a63"/>
<path d="M39.7 448 V593.3 H505.4" fill="none" stroke="#151515" stroke-width="1.4"/>
<line x1="36.7" y1="458.5" x2="39.7" y2="458.5" stroke="#151515" stroke-width="1.1"/>
<text transform="translate(33.9,460.98) scale(0.95,1)" font-size="6.8" text-anchor="end" fill="#333333" stroke="#333333" font-weight="normal">1500</text>
<line x1="36.7" y1="501.5" x2="39.7" y2="501.5" stroke="#151515" stroke-width="1.1"/>
<text transform="translate(33.9,503.98) scale(0.95,1)" font-size="6.8" text-anchor="end" fill="#333333" stroke="#333333" font-weight="normal">1000</text>
<line x1="36.7" y1="544.6" x2="39.7" y2="544.6" stroke="#151515" stroke-width="1.1"/>
<text transform="translate(33.9,547.08) scale(0.95,1)" font-size="6.8" text-anchor="end" fill="#333333" stroke="#333333" font-weight="normal">500</text>
<line x1="36.7" y1="587.7" x2="39.7" y2="587.7" stroke="#151515" stroke-width="1.1"/>
<text transform="translate(33.9,590.18) scale(0.95,1)" font-size="6.8" text-anchor="end" fill="#333333" stroke="#333333" font-weight="normal">0</text>
<line x1="64.5" y1="593.3" x2="64.5" y2="596.3" stroke="#151515" stroke-width="1.1"/>
<line x1="106.05" y1="593.3" x2="106.05" y2="596.3" stroke="#151515" stroke-width="1.1"/>
<line x1="147.6" y1="593.3" x2="147.6" y2="596.3" stroke="#151515" stroke-width="1.1"/>
<line x1="189.15" y1="593.3" x2="189.15" y2="596.3" stroke="#151515" stroke-width="1.1"/>
<line x1="230.7" y1="593.3" x2="230.7" y2="596.3" stroke="#151515" stroke-width="1.1"/>
<line x1="272.25" y1="593.3" x2="272.25" y2="596.3" stroke="#151515" stroke-width="1.1"/>
<line x1="313.8" y1="593.3" x2="313.8" y2="596.3" stroke="#151515" stroke-width="1.1"/>
<line x1="355.35" y1="593.3" x2="355.35" y2="596.3" stroke="#151515" stroke-width="1.1"/>
<line x1="396.9" y1="593.3" x2="396.9" y2="596.3" stroke="#151515" stroke-width="1.1"/>
<line x1="438.45" y1="593.3" x2="438.45" y2="596.3" stroke="#151515" stroke-width="1.1"/>
<line x1="480" y1="593.3" x2="480" y2="596.3" stroke="#151515" stroke-width="1.1"/>
<text transform="translate(64.5,605) scale(0.78,1)" font-size="6.8" text-anchor="middle" fill="#333333" stroke="#333333" font-weight="normal">PRE</text>
<text transform="translate(106.05,605) scale(0.9,1)" font-size="6.8" text-anchor="middle" fill="#333333" stroke="#333333" font-weight="normal">0</text>
<text transform="translate(147.6,605) scale(0.9,1)" font-size="6.8" text-anchor="middle" fill="#333333" stroke="#333333" font-weight="normal">3</text>
<text transform="translate(189.15,605) scale(0.9,1)" font-size="6.8" text-anchor="middle" fill="#333333" stroke="#333333" font-weight="normal">7</text>
<text transform="translate(230.7,605) scale(0.9,1)" font-size="6.8" text-anchor="middle" fill="#333333" stroke="#333333" font-weight="normal">10</text>
<text transform="translate(272.25,605) scale(0.9,1)" font-size="6.8" text-anchor="middle" fill="#333333" stroke="#333333" font-weight="normal">14</text>
<text transform="translate(313.8,605) scale(0.9,1)" font-size="6.8" text-anchor="middle" fill="#333333" stroke="#333333" font-weight="normal">14 Post</text>
<text transform="translate(355.35,605) scale(0.9,1)" font-size="6.8" text-anchor="middle" fill="#333333" stroke="#333333" font-weight="normal">15</text>
<text transform="translate(396.9,605) scale(0.9,1)" font-size="6.8" text-anchor="middle" fill="#333333" stroke="#333333" font-weight="normal">16</text>
<text transform="translate(438.45,605) scale(0.9,1)" font-size="6.8" text-anchor="middle" fill="#333333" stroke="#333333" font-weight="normal">21</text>
<text transform="translate(480,605) scale(0.9,1)" font-size="6.8" text-anchor="middle" fill="#333333" stroke="#333333" font-weight="normal">28</text>
<text x="272.3" y="616.6" font-size="8.2" text-anchor="middle" fill="#333333" stroke="#333333" font-weight="normal" textLength="73.4" lengthAdjust="spacingAndGlyphs">Days after CAR-T infusion</text>
<text transform="translate(13.73,521) rotate(-90)" x="0" y="0" font-size="8.6" text-anchor="middle" fill="#333333" stroke="#333333" textLength="33.3" lengthAdjust="spacingAndGlyphs">Cells per uL</text>
<text transform="translate(7.2,445.3) scale(0.9,1)" font-size="12.4" text-anchor="start" fill="#111" stroke="#111" font-weight="bold">F</text>
<rect x="0.5" y="0.5" width="519" height="625" fill="none" stroke="#555" stroke-width="1"/>
</svg>
</body></html>
